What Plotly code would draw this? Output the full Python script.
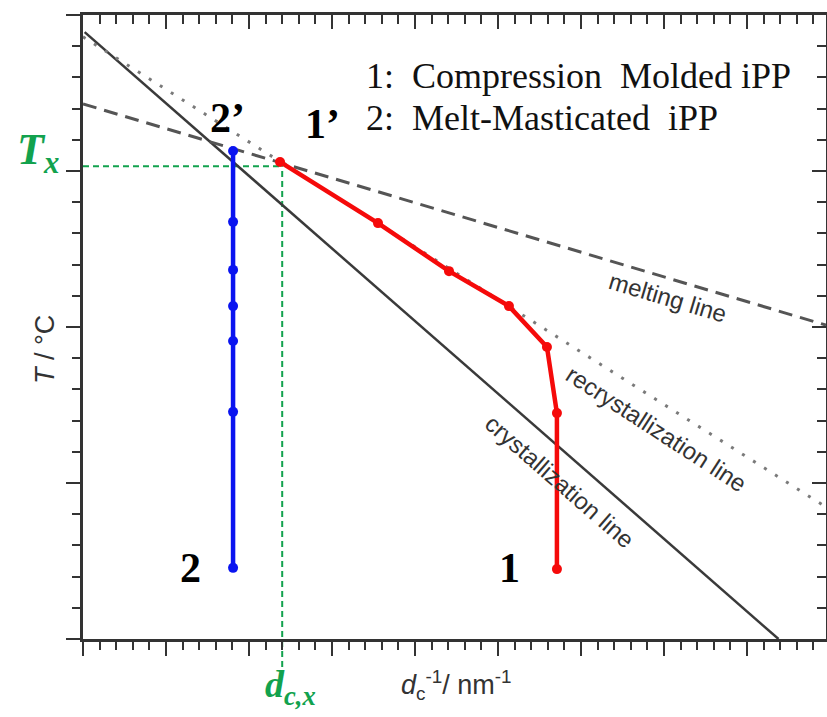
import plotly.graph_objects as go

# ---------------- data (axis units: x in minor-tick units, y in minor-tick units) ----------------
X_MAX = 44.76
Y_MAX = 20.0

blue_x = [9.04, 9.04, 9.04, 9.04, 9.04, 9.04, 9.04]
blue_y = [15.64, 13.37, 11.83, 10.67, 9.55, 7.28, 2.28]

red_x = [11.87, 17.77, 22.05, 25.66, 27.95, 28.55, 28.55]
red_y = [15.29, 13.33, 11.79, 10.67, 9.36, 7.24, 2.24]

cryst_x = [0.1, 41.9]
cryst_y = [19.45, 0.0]
recryst_x = [0.0, 44.76]
recryst_y = [19.3, 4.23]
melt_x = [0.0, 44.76]
melt_y = [17.15, 10.06]

Tx = 15.15
dcx = 12.0

GREEN = "#12A24E"
SERIF = "Liberation Serif, Times New Roman, serif"
SANS = "Liberation Sans, Arial, sans-serif"

fig = go.Figure()

fig.add_trace(go.Scatter(x=cryst_x, y=cryst_y, mode="lines",
                         line=dict(color="#3a3a3a", width=2.5), hoverinfo="skip"))
fig.add_trace(go.Scatter(x=recryst_x, y=recryst_y, mode="lines",
                         line=dict(color="#7a7a7a", width=3, dash="3px,10px"), hoverinfo="skip"))
fig.add_trace(go.Scatter(x=melt_x, y=melt_y, mode="lines",
                         line=dict(color="#555555", width=3, dash="14px,8px"), hoverinfo="skip"))
fig.add_trace(go.Scatter(x=blue_x, y=blue_y, mode="lines+markers",
                         line=dict(color="#0a14f0", width=4.5),
                         marker=dict(color="#0a14f0", size=10)))
fig.add_trace(go.Scatter(x=red_x, y=red_y, mode="lines+markers",
                         line=dict(color="#f50a0a", width=4.5),
                         marker=dict(color="#f50a0a", size=10)))
# invisible trace to activate mirrored top/right axes
fig.add_trace(go.Scatter(x=[0], y=[0], xaxis="x2", yaxis="y2", mode="markers",
                         marker=dict(size=1, opacity=0), hoverinfo="skip"))

# green guide lines
fig.add_shape(type="line", xref="x", yref="y", x0=0, x1=dcx, y0=Tx, y1=Tx,
              line=dict(color=GREEN, width=2, dash="6px,4px"), layer="below")
fig.add_shape(type="line", xref="x", yref="paper", x0=dcx, x1=dcx, y0=-0.045, y1=Tx / Y_MAX,
              line=dict(color=GREEN, width=2, dash="6px,4px"), layer="below")

ax_common = dict(showgrid=False, zeroline=False, showticklabels=False,
                 showline=True, linecolor="#333333", linewidth=2.5,
                 tickcolor="#333333", tickwidth=2, ticklen=14, dtick=5, tick0=0)
minor_out = dict(dtick=1, ticklen=8, tickwidth=2, tickcolor="#333333", ticks="outside")
minor_in = dict(dtick=1, ticklen=9, tickwidth=2, tickcolor="#333333", ticks="inside")

fig.update_layout(
    width=827, height=717,
    margin=dict(l=83, r=1, t=15, b=78),
    paper_bgcolor="white", plot_bgcolor="white",
    showlegend=False,
    xaxis=dict(range=[0, X_MAX], ticks="outside", minor=minor_out, **ax_common),
    yaxis=dict(range=[0, Y_MAX], ticks="outside", minor=minor_out, **ax_common),
    xaxis2=dict(range=[0, X_MAX], overlaying="x", side="top", ticks="inside",
                minor=minor_in, **ax_common),
    yaxis2=dict(range=[0, Y_MAX], overlaying="y", side="right", ticks="inside",
                minor=minor_in, **ax_common),
)

ann = []
# line labels
ann.append(dict(x=35.24, y=10.93, xref="x", yref="y", text="melting line", showarrow=False,
                textangle=16.5, font=dict(family=SANS, size=24, color="#333333")))
ann.append(dict(x=34.52, y=6.76, xref="x", yref="y", text="recrystallization line", showarrow=False,
                textangle=33, font=dict(family=SANS, size=24, color="#333333")))
ann.append(dict(x=28.73, y=5.06, xref="x", yref="y", text="crystallization line", showarrow=False,
                textangle=41, font=dict(family=SANS, size=24, color="#333333")))
# point labels
for txt, x, y in [("2’", 8.73, 16.7), ("1’", 14.4, 16.5), ("2", 6.45, 2.28), ("1", 25.7, 2.28)]:
    ann.append(dict(x=x, y=y, xref="x", yref="y", text=f"<b>{txt}</b>", showarrow=False,
                    font=dict(family=SERIF, size=42, color="black")))
# sample legend text
ann.append(dict(x=0.378, y=0.902, xref="paper", yref="paper", xanchor="left", yanchor="middle",
                text="1:  Compression  Molded iPP", showarrow=False,
                font=dict(family=SERIF, size=36, color="#111111")))
ann.append(dict(x=0.378, y=0.835, xref="paper", yref="paper", xanchor="left", yanchor="middle",
                text="2:  Melt-Masticated  iPP", showarrow=False,
                font=dict(family=SERIF, size=36, color="#111111")))
# green labels
ann.append(dict(x=-0.03, y=0.732, xref="paper", yref="paper", xanchor="right", yanchor="bottom",
                text="<b><i>T<sub>x</sub></i></b>",
                showarrow=False, font=dict(family=SERIF, size=44, color=GREEN)))
ann.append(dict(x=0.242, y=-0.119, xref="paper", yref="paper", text="<b><i>d<sub>c,x</sub></i></b>",
                showarrow=False, font=dict(family=SERIF, size=38, color=GREEN)))
# axis titles
ann.append(dict(x=-0.074, y=0.463, xref="paper", yref="paper", text="<i>T</i> / °C",
                textangle=-90, showarrow=False, font=dict(family=SANS, size=27, color="#333333")))
ann.append(dict(x=0.503, y=-0.108, xref="paper", yref="paper",
                text="<i>d</i><sub>c</sub><sup>-1</sup>/ nm<sup>-1</sup>",
                showarrow=False, font=dict(family=SANS, size=27, color="#333333")))
fig.update_layout(annotations=ann)

fig.write_html("out.html")
